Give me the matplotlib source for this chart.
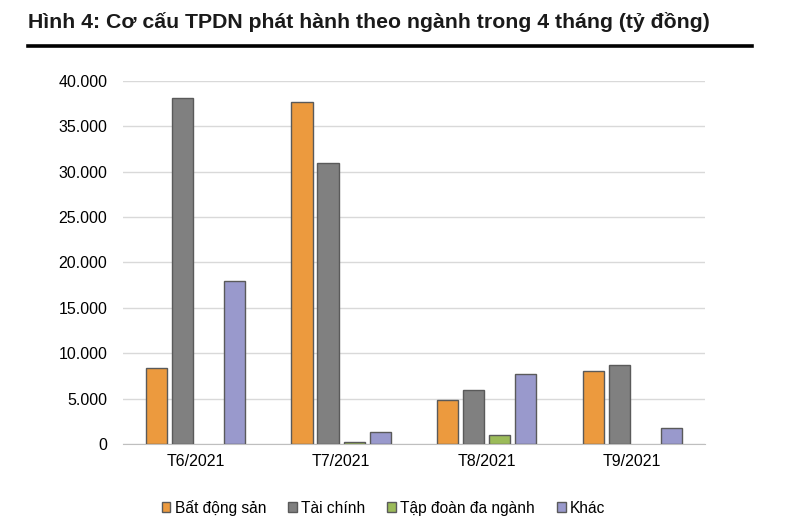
import numpy as np
import matplotlib
matplotlib.use('Agg')
import matplotlib.pyplot as plt
from matplotlib.lines import Line2D
from matplotlib.ticker import FuncFormatter, MultipleLocator

# |~~~~~~~~~~~~| Daten |~~~~~~~~~~~~|
thang = ['T6/2021', 'T7/2021', 'T8/2021', 'T9/2021']
bat_dong_san = [8400, 37700, 4850, 8000]
tai_chinh = [38100, 31000, 5950, 8700]
tap_doan = [0, 200, 1000, 0]
khac = [18000, 1300, 7700, 1750]

nhom = ['Bất động sản', 'Tài chính', 'Tập đoàn đa ngành', 'Khác']
mau = ['#EC9A3E', '#808080', '#9BBB59', '#9999CC']

plt.rcParams['font.family'] = ['Liberation Sans', 'DejaVu Sans']

fig = plt.figure(figsize=(8.02, 5.18), dpi=100)
ax = fig.add_axes([0.153, 0.143, 0.726, 0.701])

x = np.arange(len(thang))
step = 0.179
w = 0.145
for k, (ten, vals) in enumerate(zip(nhom, [bat_dong_san, tai_chinh, tap_doan, khac])):
    lw = [1.0 if v > 0 else 0.0 for v in vals]   # keine Linie bei Wert 0
    ax.bar(x + (k - 1.5) * step, vals, width=w, color=mau[k], edgecolor='#5A5A5A',
           linewidth=lw, label=ten, zorder=3)

ax.set_xlim(-0.5, len(thang) - 0.5)
ax.set_ylim(0, 40000)
ax.yaxis.set_major_locator(MultipleLocator(5000))
ax.yaxis.set_major_formatter(FuncFormatter(lambda v, p: f'{int(v):,}'.replace(',', '.')))
ax.set_xticks(x)
ax.set_xticklabels(thang)
ax.grid(axis='y', color='#D9D9D9', linewidth=1.0, zorder=0)
for s in ['top', 'right', 'left']:
    ax.spines[s].set_visible(False)
ax.spines['bottom'].set_color('#BFBFBF')
ax.tick_params(axis='both', length=0, labelsize=11.5, colors='#000000', pad=7)
ax.tick_params(axis='y', pad=11)

leg = ax.legend(loc='upper center', bbox_to_anchor=(0.448, -0.115), ncol=4, frameon=False,
                fontsize=11.2, handlelength=0.55, handleheight=0.55, handletextpad=0.3,
                columnspacing=1.4)
for h in leg.legend_handles:
    h.set_linewidth(1.0)

fig.text(0.035, 0.957, 'Hình 4: Cơ cấu TPDN phát hành theo ngành trong 4 tháng (tỷ đồng)',
         fontsize=15.3, fontweight='bold', ha='left', va='center', color='#1A1A1A')
fig.add_artist(Line2D([0.035, 0.938], [0.912, 0.912], color='black', linewidth=2.6))

fig.savefig('out.png', dpi=100)
